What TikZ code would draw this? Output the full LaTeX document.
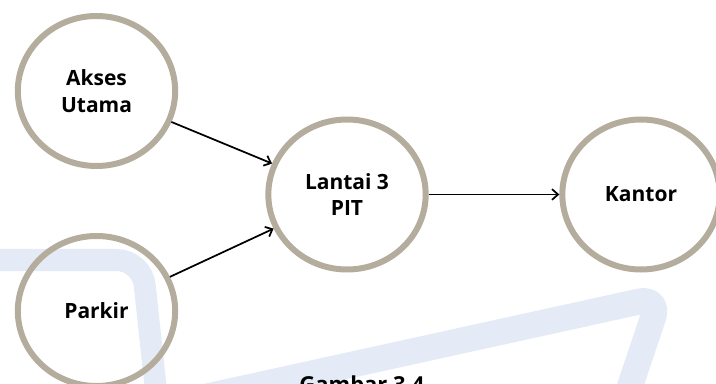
\documentclass[tikz,border=0pt]{standalone}
\usepackage{fontspec}
\setmainfont{Open Sans}
\usetikzlibrary{shapes.geometric,arrows.meta}
\definecolor{ringc}{RGB}{180,173,157}
\definecolor{wmc}{RGB}{229,235,246}
\begin{document}
\begin{tikzpicture}[x=0.75pt,y=-0.75pt,
  place/.style={ellipse, draw=ringc, line width=4.5pt, minimum width=118pt,
    minimum height=112.5pt, inner sep=0pt, align=center,
    font=\fontsize{15.75}{20}\selectfont\bfseries},
  link/.style={draw=black, line width=1.3pt,
    -{Straight Barb[length=4.5pt,width=8pt]}},
  wm/.style={draw=wmc, line cap=butt, line join=round},
  captext/.style={font=\fontsize{16.5}{20}\selectfont\bfseries, inner sep=0pt}]
\useasboundingbox (0,0) rectangle (716,384);
\clip (0,0) rectangle (716,384);
% watermark
\draw[wm, line width=16.5pt, rounded corners=19pt] (-10,260) -- (142,260) -- (157,400);
\draw[wm, line width=19.5pt, rounded corners=16pt] (200,398) -- (660,297) -- (627,395);
% nodes
\node[place] (akses) at (96.5,91) {Akses\\Utama};
\node[place] (parkir) at (96.5,311) {Parkir};
\node[place] (lantai) at (347,194.5) {Lantai 3\\PIT};
\node[place] (kantor) at (641,194.5) {Kantor};
% connectors
\draw[link] (akses) -- (lantai);
\draw[link] (parkir) -- (lantai);
\draw[link] (lantai) -- (kantor);
% caption (cut by the lower edge, as in the reference)
\node[captext, anchor=base] (cap) at (362,392) {Gambar 3.4};
\end{tikzpicture}
\end{document}
